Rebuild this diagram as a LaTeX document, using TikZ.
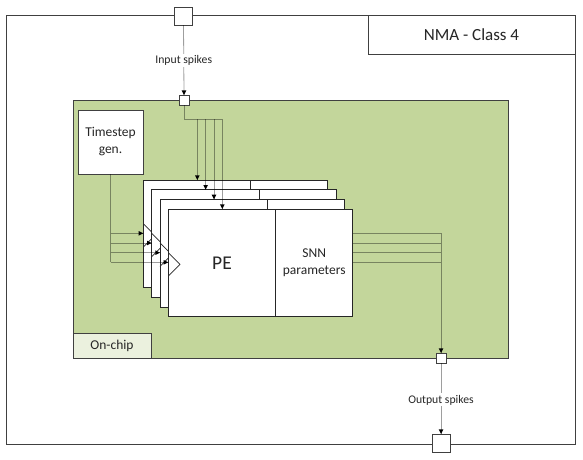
\documentclass[tikz,border=0pt]{standalone}
\usepackage{fontspec}
\setmainfont{Carlito}
\definecolor{chipgreen}{HTML}{C3D69B}
\definecolor{onchipfill}{HTML}{EBF1DE}
\definecolor{bord}{HTML}{404040}
\definecolor{txt}{HTML}{262626}
\begin{document}
\begin{tikzpicture}[x=1pt,y=-1pt,
  box/.style={draw=bord,line width=0.8pt,inner sep=0pt,outer sep=0pt,text=txt},
  layerbox/.style={draw=black!85,line width=0.8pt,fill=white,inner sep=0pt,outer sep=0pt,text=txt},
  conn/.style={draw=black,draw opacity=0.38,line width=0.8pt},
  sq/.style={box,fill=white,minimum width=#1,minimum height=#1},
  lbl/.style={fill=white,inner sep=1.5pt,text=txt,font=\fontsize{11.7}{14}\selectfont},
  dtip/.pic={\fill[black] (-2.3,-4.6) -- (2.3,-4.6) -- (0,0) -- cycle;},
  rtip/.pic={\fill[black] (-4.6,-2.3) -- (-4.6,2.3) -- (0,0) -- cycle;},
]
\useasboundingbox (0,0) rectangle (583,459);
% outer frame
\node[box,fill=white,minimum width=569pt,minimum height=429pt,anchor=north west] (outer) at (6,15) {};
\node[box,fill=white,minimum width=207pt,minimum height=39pt,anchor=north west,
      font=\fontsize{17}{20}\selectfont] (nma) at (368,15) {NMA - Class 4};
% on-chip region
\node[box,fill=chipgreen,minimum width=435pt,minimum height=258pt,anchor=north west] (chip) at (73,100) {};
\node[box,fill=onchipfill,minimum width=78pt,minimum height=25pt,anchor=north west,
      font=\fontsize{13.5}{16.5}\selectfont] (onchip) at (73,333) {On-chip};
\node[box,fill=white,minimum width=65pt,minimum height=64pt,anchor=north west,align=center,
      font=\fontsize{13.5}{17}\selectfont] (ts) at (78,110) {Timestep\\gen.};
% ports
\node[sq=18pt] (inbig) at (183.5,16) {};
\node[sq=10pt] (insq) at (184,100) {};
\node[sq=10pt] (outsq) at (441,358) {};
\node[sq=18pt] (outbig) at (441,443) {};
% input / output spikes
\draw[conn] (inbig.south) -- node[lbl] {Input spikes} (insq.north);
\pic at (insq.north) {dtip};
\draw[conn] (outsq.south) -- node[lbl,pos=0.52] {Output spikes} (outbig.north);
\pic at (outbig.north) {dtip};
% timestep trunk
\coordinate (tsbot) at (110.5,262.3);
\draw[conn] (ts.south -| tsbot) -- (tsbot);
% input bus
\coordinate (tbus) at (184,119);
\draw[conn] (insq.south) -- (tbus) -- (222.3,119);
% stacked processing elements
\foreach \i in {0,...,3}{
  \pgfmathsetmacro\lx{143.3+8.33*\i}
  \pgfmathsetmacro\ty{180+9.67*\i}
  \ifnum\i=3
    \node[layerbox,minimum width=107.4pt,minimum height=107.7pt,anchor=north west,
          font=\fontsize{19.5}{22}\selectfont] (pe\i) at (\lx,\ty) {PE};
    \node[layerbox,minimum width=77pt,minimum height=107.7pt,anchor=north west,align=center,
          font=\fontsize{13.5}{17.3}\selectfont] (snn\i) at (pe\i.north east) {SNN\\parameters};
  \else
    \node[layerbox,minimum width=107.4pt,minimum height=107.7pt,anchor=north west] (pe\i) at (\lx,\ty) {};
    \node[layerbox,minimum width=77pt,minimum height=107.7pt,anchor=north west] (snn\i) at (pe\i.north east) {};
  \fi
  % clock input triangle
  \draw[draw=black!85,line width=0.7pt] (\lx,\ty+43.6) -- (\lx+11.7,\ty+55.3) -- (\lx,\ty+67);
  % timestep input
  \coordinate (lin\i) at (\lx,\ty+53.3);
  \draw[conn] (lin\i -| tsbot) -- (lin\i);
  \pic at (lin\i) {rtip};
  % spike input
  \coordinate (tin\i) at (\lx+54,\ty);
  \draw[conn] (tin\i |- tbus) -- (tin\i);
  \pic at (tin\i) {dtip};
  % output
  \coordinate (rout\i) at (snn\i.east |- lin\i);
  \draw[conn] (rout\i) -- (rout\i -| outsq);
}
\draw[conn] (rout0 -| outsq) -- (outsq.north);
\pic at (outsq.north) {dtip};
\end{tikzpicture}
\end{document}
